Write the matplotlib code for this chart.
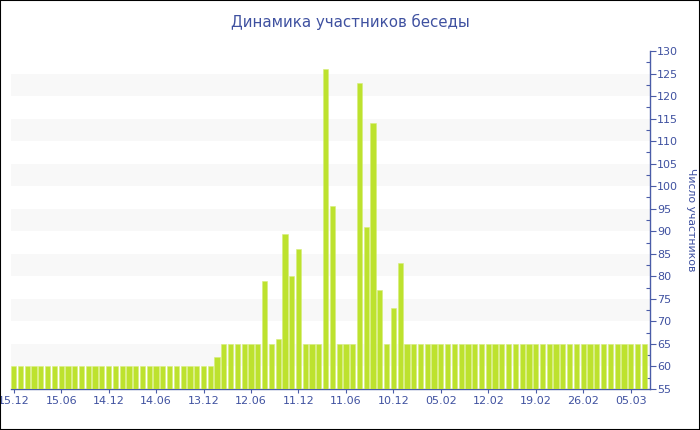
import numpy as np
import matplotlib
matplotlib.use("Agg")
import matplotlib.pyplot as plt
from matplotlib.ticker import MultipleLocator

# Members per period (94 bars)
values = ([60] * 30 + [62] + [65] * 6 + [79, 65, 66, 89.5, 80, 86, 65, 65, 65, 126, 95.5,
          65, 65, 65, 123, 91, 114, 77, 65, 73, 83] + [65] * 36)

# Labels shown on every 7th bar
tick_labels = ["15.12", "15.06", "14.12", "14.06", "13.12", "12.06", "11.12",
               "11.06", "10.12", "05.02", "12.02", "19.02", "26.02", "05.03"]
tick_step = 7

title = "Динамика участников беседы"
ylabel = "Число участников"

text_color = "#3f51a0"
axis_color = "#4a5ca8"
bar_color = "#bde22e"
band_color = "#f8f8f8"

plt.rcParams['font.family'] = ['DejaVu Sans']

fig = plt.figure(figsize=(7, 4.3), dpi=100)
ax = fig.add_axes([11 / 700, 1 - 389 / 430, 639 / 700, 338 / 430])

x = np.arange(len(values))
ax.bar(x, np.array(values) - 55, bottom=55, width=0.77, color=bar_color,
       edgecolor="#d6ee7a", linewidth=0.4, zorder=3)

ax.set_ylim(55, 130)
ax.set_xlim(-0.4, len(values) - 0.15)

# alternating bands
for lo in range(60, 130, 10):
    ax.axhspan(lo, lo + 5, color=band_color, zorder=0, lw=0)

ax.yaxis.tick_right()
ax.yaxis.set_label_position("right")
ax.yaxis.set_major_locator(MultipleLocator(5))
ax.yaxis.set_minor_locator(MultipleLocator(2.5))
ax.tick_params(axis="y", which="major", direction="out", length=4, width=0.8,
               color=axis_color, labelcolor=text_color, labelsize=8, pad=1)
ax.tick_params(axis="y", which="minor", direction="in", length=3, width=0.8,
               color=axis_color)

ax.set_xticks(x[::tick_step])
ax.set_xticklabels(tick_labels)
ax.tick_params(axis="x", direction="out", length=3, width=0.8, color=axis_color,
               labelcolor=text_color, labelsize=8, pad=2)

for side in ["left", "top"]:
    ax.spines[side].set_visible(False)
ax.spines["right"].set_color(axis_color)
ax.spines["bottom"].set_color(axis_color)
ax.spines["right"].set_linewidth(1)
ax.spines["bottom"].set_linewidth(1)

ax.set_ylabel(ylabel, rotation=270, color=text_color, fontsize=7.8, labelpad=13)
fig.text(0.5, 1 - 22 / 430, title, ha="center", va="center", color=text_color,
         fontsize=10.8)

# outer frame
fig.patches.append(plt.Rectangle((0, 0), 1, 1, transform=fig.transFigure,
                                 fill=False, edgecolor="black", linewidth=1.5))

fig.savefig("out.png", dpi=100)
